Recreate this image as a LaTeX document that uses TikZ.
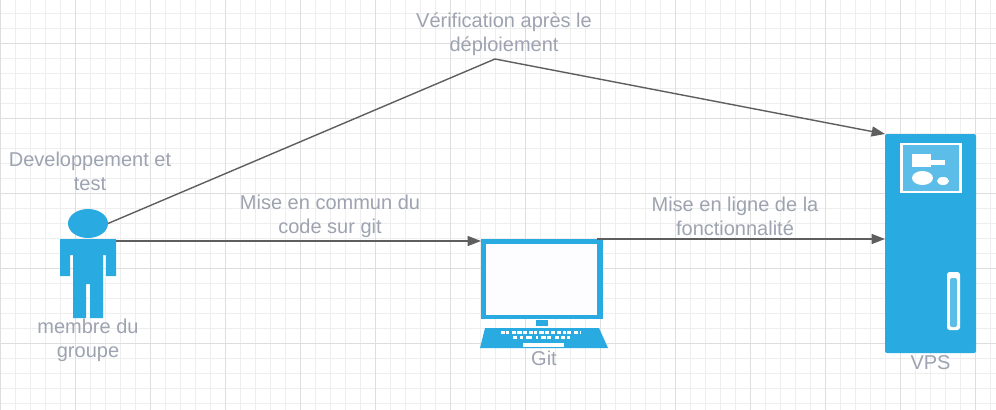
\documentclass[tikz,border=0pt]{standalone}
\usepackage{fontspec}
\setmainfont{Liberation Sans}
\usetikzlibrary{shapes.geometric,arrows.meta}
\definecolor{gminor}{HTML}{EEEEEE}
\definecolor{gmajor}{HTML}{DEDEDE}
\definecolor{azure}{HTML}{29ABE2}
\definecolor{azurelt}{HTML}{5BBDE8}
\definecolor{lbl}{HTML}{9DA3B0}
\definecolor{conn}{HTML}{5E5E5E}
\tikzset{
  x=0.75pt,y=-0.75pt,
  gridminor/.style={draw=gminor,line width=0.75pt},
  gridmajor/.style={draw=gmajor,line width=0.75pt},
  lab/.style={text=lbl,font=\fontsize{15}{18}\selectfont,align=center,inner sep=0pt,anchor=center},
  flow/.style={draw=conn,line width=1.05pt},
  flowarrow/.style={flow,-{Triangle[length=10pt,width=7.5pt,fill=conn]}},
  blue/.style={fill=azure,draw=none},
  wht/.style={fill=white,draw=none},
  pale/.style={fill=azurelt,draw=none},
  boxnode/.style={rectangle,inner sep=0pt,outer sep=0pt,anchor=north west,draw=none},
}
\begin{document}
\begin{tikzpicture}
\useasboundingbox (0,0) rectangle (996,410);
\fill[white] (0,0) rectangle (996,410);
% grid
\foreach \k in {0,...,66}{\draw[gridminor] ({15*\k+0.5},0) -- ({15*\k+0.5},410);}
\foreach \k in {0,...,27}{\draw[gridminor] (0,{15*\k-1.5}) -- (996,{15*\k-1.5});}
\foreach \k in {0,...,13}{\draw[gridmajor] ({75*\k+0.5},0) -- ({75*\k+0.5},410);}
\foreach \k in {0,...,5}{\draw[gridmajor] (0,{75*\k+43.5}) -- (996,{75*\k+43.5});}
% anchors
\node[ellipse,blue,inner sep=0pt,outer sep=0pt,minimum width=30pt,minimum height=21.75pt] (head) at (88,223.5) {};
\coordinate (personarm) at (116,241);
\coordinate (bend) at (495,59);
\coordinate (screenin) at (481,241);
\coordinate (screenout) at (597,239);
\coordinate (vpstop) at (885,134);
\coordinate (vpsmid) at (885,239);
% person
\fill[blue] (60,239) -- (116,239) -- (116,276) -- (106,276) -- (106,255) -- (103,255) -- (103,318) -- (90,318) -- (90,284) -- (86,284) -- (86,318) -- (73,318) -- (73,255) -- (70,255) -- (70,276) -- (60,276) -- cycle;
% laptop
\node[boxnode,fill=azure,minimum width=91.5pt,minimum height=60pt] (screen) at (481,239) {};
\node[boxnode,fill=white!60!blue!2,minimum width=83.25pt,minimum height=53.25pt] (display) at (486,244) {};
\fill[blue] (536,320) rectangle (548,326);
\fill[blue] (485,328) -- (599,328) -- (608,348) -- (480,348) -- cycle;
\fill[wht] (523,343) rectangle (564,347);
\foreach \a/\b in {501/505,506/509,512/516,517/522,523/527,529/533,534/537,539/544,545/549,551/555,557/561,563/566,567/571,574/578,580/581}{\fill[wht] (\a,331) rectangle (\b,334);}
\foreach \a/\b in {513/517,520/523,526/532,536/538,541/546,547/551,555/559,561/565,567/570}{\fill[wht] (\a,336) rectangle (\b,339);}
% VPS
\node[boxnode,fill=azure,rounded corners=1.5pt,minimum width=68.25pt,minimum height=164.25pt] (vps) at (885,134) {};
\fill[wht] (900,143) rectangle (962,193);
\fill[pale] (903,145) rectangle (959,191);
\fill[wht] (912,154) rectangle (931,167);
\fill[wht] (931,160) rectangle (945,165);
\fill[wht] (922.5,178) ellipse [x radius=10.5,y radius=7];
\fill[wht] (943,181) ellipse [x radius=6,y radius=4];
\fill[wht,rounded corners=2pt] (947,272) rectangle (960,330);
\fill[pale,rounded corners=1.5pt] (950,278) rectangle (957,327);
% connectors
\draw[flowarrow] (head.east) -- (bend) -- (vpstop);
\draw[flowarrow] (personarm) -- (screenin);
\draw[flowarrow] (screenout) -- (vpsmid);
% labels
\node[lab] (lverif) at (504,34.5) {Vérification après le\\déploiement};
\node[lab] (ldev) at (90,171) {Developpement et\\test};
\node[lab] (lcode) at (330,216) {Mise en commun du\\code sur git};
\node[lab] (lprod) at (735,216) {Mise en ligne de la\\fonctionnalité};
\node[lab] (lmembre) at (88,340) {membre du\\groupe};
\node[lab] (lgit) at (544,358) {Git};
\node[lab] (lvps) at (930.5,363) {VPS};
\end{tikzpicture}
\end{document}
